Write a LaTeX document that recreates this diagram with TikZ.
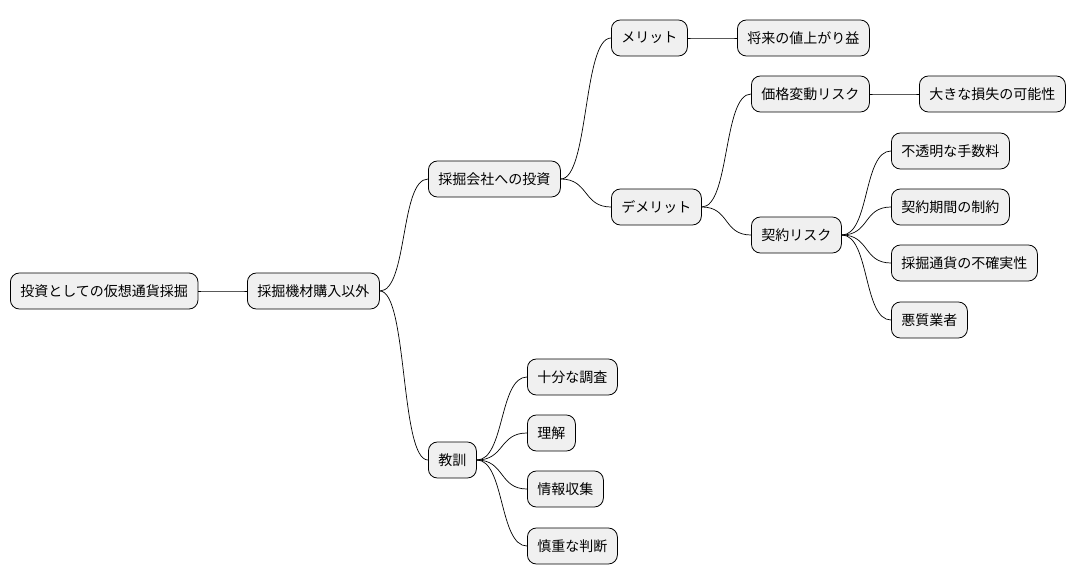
\documentclass[tikz,border=0pt]{standalone}
\usepackage{fontspec}
\setmainfont{Noto Sans CJK JP}
\begin{document}
\begin{tikzpicture}[x=1pt,y=-1pt,
  topic/.style={draw,line width=0.8pt,rounded corners=9pt,fill=gray!12,minimum height=36pt,
    inner xsep=10pt,anchor=west,font=\fontsize{14}{16}\selectfont},
  link/.style={line width=0.7pt}]
\useasboundingbox (0,0) rectangle (1076,583);
\node[topic] (root) at (10,291) {投資としての仮想通貨採掘};
\node[topic] (other) at (247,291) {採掘機材購入以外};
\node[topic] (invest) at (428,179) {採掘会社への投資};
\node[topic] (lesson) at (428,460) {教訓};
\node[topic] (merit) at (611,38) {メリット};
\node[topic] (demerit) at (611,207) {デメリット};
\node[topic] (gain) at (737,38) {将来の値上がり益};
\node[topic] (price) at (751,94) {価格変動リスク};
\node[topic] (contract) at (751,235) {契約リスク};
\node[topic] (loss) at (919,94) {大きな損失の可能性};
\node[topic] (fee) at (891,151) {不透明な手数料};
\node[topic] (term) at (891,207) {契約期間の制約};
\node[topic] (coin) at (891,263) {採掘通貨の不確実性};
\node[topic] (bad) at (891,320) {悪質業者};
\node[topic] (study) at (527,377) {十分な調査};
\node[topic] (know) at (527,433) {理解};
\node[topic] (info) at (527,489) {情報収集};
\node[topic] (judge) at (527,546) {慎重な判断};
% connectors
\foreach \a/\b in {root/other,other/invest,other/lesson,invest/merit,invest/demerit,
  merit/gain,demerit/price,demerit/contract,price/loss,contract/fee,contract/term,
  contract/coin,contract/bad,lesson/study,lesson/know,lesson/info,lesson/judge}
  \draw[link] (\a.east) .. controls +(28,0) and +(-28,0) .. (\b.west);
\end{tikzpicture}
\end{document}
